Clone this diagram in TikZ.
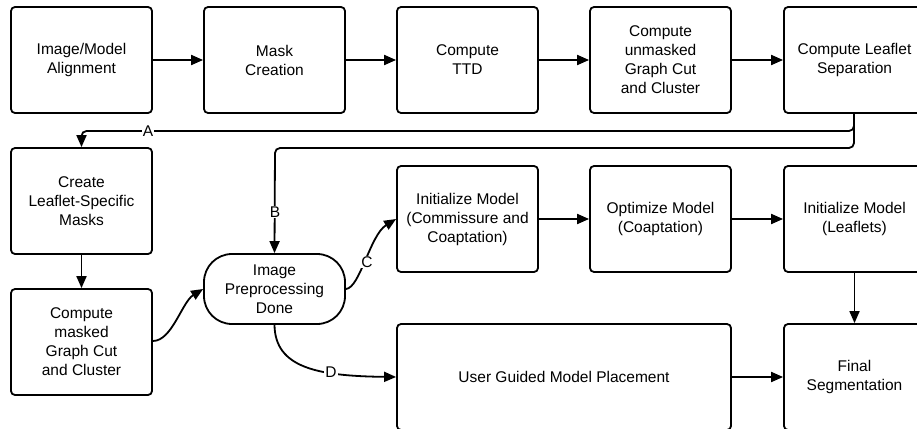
\documentclass[tikz,border=0pt]{standalone}
\usepackage{fontspec}
\setmainfont{Liberation Sans}
\usetikzlibrary{arrows.meta}
\begin{document}
\begin{tikzpicture}[x=1pt,y=1pt,
  box/.style={draw, line width=1.8pt, rounded corners=4pt, minimum width=141pt, minimum height=106pt, align=center, font=\fontsize{15.5}{19}\selectfont, inner sep=2pt, fill=white},
  stadium/.style={box, minimum height=70pt, rounded corners=28pt},
  conn/.style={line width=1.8pt, -{Triangle[length=12pt,width=10pt]}},
  lab/.style={fill=white, inner sep=1pt, font=\fontsize{15.5}{19}\selectfont}
]
\useasboundingbox (0,0) rectangle (917,-428);

% top row
\node[box] (align) at (81.5,-60) {Image/Model\\Alignment};
\node[box] (mask) at (274.5,-60) {Mask\\Creation};
\node[box] (ttd) at (467.5,-60) {Compute\\TTD};
\node[box] (unm) at (660.5,-60) {Compute\\unmasked\\Graph Cut\\and Cluster};
\node[box] (sep) at (854.5,-60) {Compute Leaflet\\Separation};

% left column
\node[box] (create) at (81.5,-201) {Create\\Leaflet-Specific\\Masks};
\node[box] (masked) at (81.5,-342) {Compute\\masked\\Graph Cut\\and Cluster};

% preprocessing
\node[stadium] (pre) at (274.5,-289) {Image\\Preprocessing\\Done};

% middle row
\node[box] (initc) at (467.5,-219) {Initialize Model\\(Commissure and\\Coaptation)};
\node[box] (opt) at (660.5,-219) {Optimize Model\\(Coaptation)};
\node[box] (initl) at (854.5,-219) {Initialize Model\\(Leaflets)};

% bottom row
\node[box, minimum width=334pt] (user) at (564,-377) {User Guided Model Placement};
\node[box] (final) at (854.5,-377) {Final\\Segmentation};

% top row arrows
\draw[conn] (align) -- (mask);
\draw[conn] (mask) -- (ttd);
\draw[conn] (ttd) -- (unm);
\draw[conn] (unm) -- (sep);

% A and B
\coordinate (sepbot) at (854,-113);
\draw[conn, rounded corners=5pt] (sepbot) -- (854,-131) -- (81.5,-131) -- (create.north);
\draw[conn, rounded corners=5pt] (sepbot) -- (854,-148) -- (275,-148) -- (pre.north);
\node[lab] (la) at (148,-131) {A};
\node[lab] (lb) at (275,-212) {B};

\draw[conn] (create) -- (masked);
\draw[conn] (masked.east |- 0,-341) .. controls (172,-341) and (182,-302) .. (pre.west);
\draw[conn] (pre.east) .. controls (360,-288) and (370,-235) .. (initc.west);
\node[lab] (lc) at (367,-262) {C};
\draw[conn] (pre.south) .. controls (275,-368) and (318,-376) .. (user.west);
\node[lab] (ld) at (331,-372) {D};

\draw[conn] (initc) -- (opt);
\draw[conn] (opt) -- (initl);
\draw[conn] (initl) -- (final);
\draw[conn] (user) -- (final);
\end{tikzpicture}
\end{document}
